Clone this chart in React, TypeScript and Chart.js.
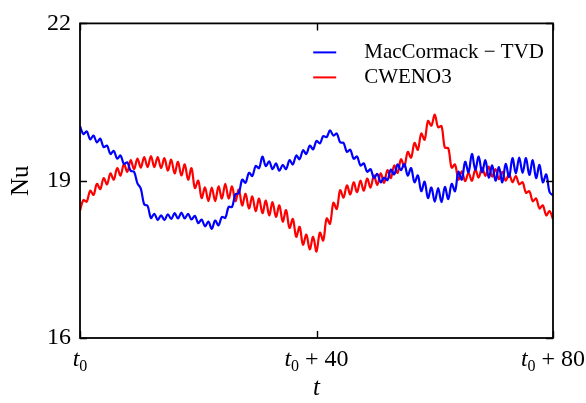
import React, { useEffect, useRef } from 'react';
import { Chart, registerables } from 'chart.js';

Chart.register(...registerables);

const seriesNames = ['MacCormack − TVD', 'CWENO3'];
const seriesColors = ['#0000ff', '#ff0000'];
const T_START = 0;
const T_END = 80;
const xTickValues = [0, 40, 80];
const xTickSuffix = ['', ' + 40', ' + 80'];
const yTickValues = [16, 19, 22];
const Y_MIN = 16;
const Y_MAX = 22;

const macCormackTVD = [
  20.04, 19.89, 19.94, 19.79, 19.86, 19.73, 19.80, 19.64, 19.67, 19.51,
  19.57, 19.42, 19.48, 19.32, 19.35, 19.19, 19.17, 18.95, 18.85, 18.55,
  18.52, 18.29, 18.37, 18.25, 18.34, 18.25, 18.36, 18.27, 18.38, 18.28,
  18.39, 18.28, 18.37, 18.26, 18.33, 18.19, 18.26, 18.13, 18.22, 18.08,
  18.24, 18.15, 18.31, 18.29, 18.50, 18.50, 18.74, 18.76, 19.02, 18.96,
  19.15, 19.09, 19.28, 19.24, 19.46, 19.28, 19.37, 19.22, 19.33, 19.19,
  19.30, 19.22, 19.39, 19.31, 19.48, 19.41, 19.58, 19.51, 19.67, 19.60,
  19.76, 19.71, 19.85, 19.83, 19.96, 19.86, 19.90, 19.73, 19.72, 19.55,
  19.59, 19.42, 19.46, 19.29, 19.33, 19.17, 19.22, 19.05, 19.13, 18.97,
  19.06, 19.01, 19.21, 19.12, 19.31, 19.20, 19.32, 19.10, 19.24, 18.97,
  19.10, 18.80, 18.98, 18.67, 18.87, 18.60, 18.86, 18.59, 18.88, 18.65,
  18.94, 18.80, 19.17, 19.02, 19.36, 19.16, 19.51, 19.21, 19.46, 19.16,
  19.39, 19.06, 19.29, 19.00, 19.26, 18.97, 19.32, 19.07, 19.43, 19.14,
  19.44, 19.15, 19.43, 19.11, 19.39, 19.05, 19.30, 18.97, 19.12, 18.78,
  18.72,
];

const cweno3 = [
  18.43, 18.63, 18.60, 18.81, 18.73, 18.94, 18.84, 19.05, 18.93, 19.14,
  19.02, 19.24, 19.10, 19.32, 19.17, 19.39, 19.22, 19.42, 19.25, 19.45,
  19.26, 19.47, 19.26, 19.45, 19.24, 19.43, 19.19, 19.40, 19.14, 19.36,
  19.10, 19.31, 19.02, 19.24, 18.86, 19.00, 18.67, 18.87, 18.61, 18.87,
  18.61, 18.89, 18.66, 18.94, 18.66, 18.89, 18.61, 18.83, 18.53, 18.75,
  18.47, 18.70, 18.42, 18.66, 18.38, 18.62, 18.34, 18.59, 18.31, 18.53,
  18.22, 18.44, 18.10, 18.27, 17.93, 18.12, 17.78, 17.97, 17.69, 17.93,
  17.65, 18.01, 17.86, 18.28, 18.18, 18.58, 18.46, 18.82, 18.68, 18.91,
  18.74, 18.97, 18.78, 19.00, 18.81, 19.04, 18.87, 19.10, 18.92, 19.14,
  18.96, 19.20, 19.05, 19.29, 19.15, 19.41, 19.27, 19.55, 19.44, 19.72,
  19.59, 19.90, 19.78, 20.14, 20.05, 20.26, 20.02, 20.04, 19.63, 19.62,
  19.25, 19.31, 19.02, 19.18, 18.99, 19.15, 19.00, 19.21, 19.06, 19.25,
  19.09, 19.27, 19.08, 19.22, 19.03, 19.17, 19.00, 19.13, 18.97, 19.09,
  18.93, 18.97, 18.77, 18.80, 18.61, 18.66, 18.47, 18.53, 18.34, 18.42,
  18.27,
];

const SERIF = "'Liberation Serif', 'DejaVu Serif', serif";

function toPoints(values: number[]) {
  const step = (T_END - T_START) / (values.length - 1);
  return values.map((v, i) => ({ x: T_START + i * step, y: v }));
}

const framePlugin = {
  id: 'framePlugin',
  afterDatasetsDraw(chart: any) {
    const { ctx, chartArea: a, scales } = chart;
    ctx.save();
    // frame
    ctx.strokeStyle = '#000';
    ctx.lineWidth = 1.8;
    ctx.strokeRect(a.left, a.top, a.right - a.left, a.bottom - a.top);
    // inward ticks
    ctx.lineWidth = 1.4;
    const tl = 7;
    ctx.beginPath();
    scales.x.ticks.forEach((t: any) => {
      const px = Math.round(scales.x.getPixelForValue(t.value)) + 0.5;
      ctx.moveTo(px, a.bottom);
      ctx.lineTo(px, a.bottom - tl);
      ctx.moveTo(px, a.top);
      ctx.lineTo(px, a.top + tl);
    });
    scales.y.ticks.forEach((t: any) => {
      const py = Math.round(scales.y.getPixelForValue(t.value)) + 0.5;
      ctx.moveTo(a.left, py);
      ctx.lineTo(a.left + tl, py);
      ctx.moveTo(a.right, py);
      ctx.lineTo(a.right - tl, py);
    });
    ctx.stroke();

    // x tick labels: italic t, subscript 0, upright remainder
    ctx.fillStyle = '#000';
    ctx.textBaseline = 'alphabetic';
    ctx.textAlign = 'left';
    const baseY = a.bottom + 28;
    scales.x.ticks.forEach((t: any, i: number) => {
      const px = scales.x.getPixelForValue(t.value);
      const fT = `italic 24px ${SERIF}`;
      const fS = `16px ${SERIF}`;
      const fR = `24px ${SERIF}`;
      const suffix = xTickSuffix[i] || '';
      ctx.font = fT;
      const wT = ctx.measureText('t').width;
      ctx.font = fS;
      const wS = ctx.measureText('0').width;
      ctx.font = fR;
      const wR = ctx.measureText(suffix).width;
      let x = px - (wT + wS + wR) / 2;
      ctx.font = fT;
      ctx.fillText('t', x, baseY);
      x += wT;
      ctx.font = fS;
      ctx.fillText('0', x, baseY + 5);
      x += wS;
      ctx.font = fR;
      ctx.fillText(suffix, x, baseY);
    });

    // legend inside top right
    ctx.font = `21px ${SERIF}`;
    ctx.textBaseline = 'middle';
    const widths = chart.data.datasets.map((d: any) => ctx.measureText(d.label).width);
    const maxW = Math.max(...widths);
    const textX = a.right - 9 - maxW;
    const lineX2 = textX - 28;
    const lineX1 = lineX2 - 23;
    chart.data.datasets.forEach((d: any, k: number) => {
      const y = a.top + 29 + k * 25;
      ctx.strokeStyle = d.borderColor;
      ctx.lineWidth = 2;
      ctx.beginPath();
      ctx.moveTo(lineX1, y);
      ctx.lineTo(lineX2, y);
      ctx.stroke();
      ctx.fillStyle = '#000';
      ctx.fillText(d.label, textX, y);
    });
    ctx.restore();
  },
};

export default function App() {
  const canvasRef = useRef<HTMLCanvasElement | null>(null);

  useEffect(() => {
    document.body.style.margin = '0';
    const canvas = canvasRef.current;
    if (!canvas) return;
    const chart = new Chart(canvas, {
      type: 'line',
      data: {
        datasets: [
          {
            label: seriesNames[0],
            data: toPoints(macCormackTVD),
            borderColor: seriesColors[0],
            backgroundColor: seriesColors[0],
            borderWidth: 2.2,
            pointRadius: 0,
            tension: 0.35,
            fill: false,
          },
          {
            label: seriesNames[1],
            data: toPoints(cweno3),
            borderColor: seriesColors[1],
            backgroundColor: seriesColors[1],
            borderWidth: 2.2,
            pointRadius: 0,
            tension: 0.35,
            fill: false,
          },
        ],
      },
      options: {
        animation: false,
        responsive: false,
        maintainAspectRatio: false,
        devicePixelRatio: 1,
        layout: { padding: { left: 0, right: 33, top: 18, bottom: 0 } },
        plugins: {
          legend: { display: false },
          tooltip: { enabled: false },
        },
        scales: {
          x: {
            type: 'linear',
            min: T_START,
            max: T_END,
            grid: { display: false, drawTicks: false },
            border: { display: false },
            ticks: { display: false },
            afterBuildTicks: (scale: any) => {
              scale.ticks = xTickValues.map((v) => ({ value: v }));
            },
            afterFit: (scale: any) => {
              scale.height = 65;
            },
            title: {
              display: true,
              text: 't',
              color: '#000',
              font: { family: SERIF, size: 25, style: 'italic' },
              padding: { top: 0, bottom: 0 },
            },
          },
          y: {
            type: 'linear',
            min: Y_MIN,
            max: Y_MAX,
            grid: { display: false, drawTicks: false },
            border: { display: false },
            ticks: {
              color: '#000',
              padding: 9,
              font: { family: SERIF, size: 24 },
            },
            afterBuildTicks: (scale: any) => {
              scale.ticks = yTickValues.map((v) => ({ value: v }));
            },
            afterFit: (scale: any) => {
              scale.width = 80;
            },
            title: {
              display: true,
              text: 'Nu',
              color: '#000',
              font: { family: SERIF, size: 25 },
              padding: { top: 6, bottom: 0 },
            },
          },
        },
      },
      plugins: [framePlugin],
    });
    return () => chart.destroy();
  }, []);

  return (
    <div style={{ position: 'fixed', left: 0, top: 0, width: 586, height: 403, background: '#fff' }}>
      <canvas ref={canvasRef} width={586} height={403} style={{ width: 586, height: 403 }} />
    </div>
  );
}
